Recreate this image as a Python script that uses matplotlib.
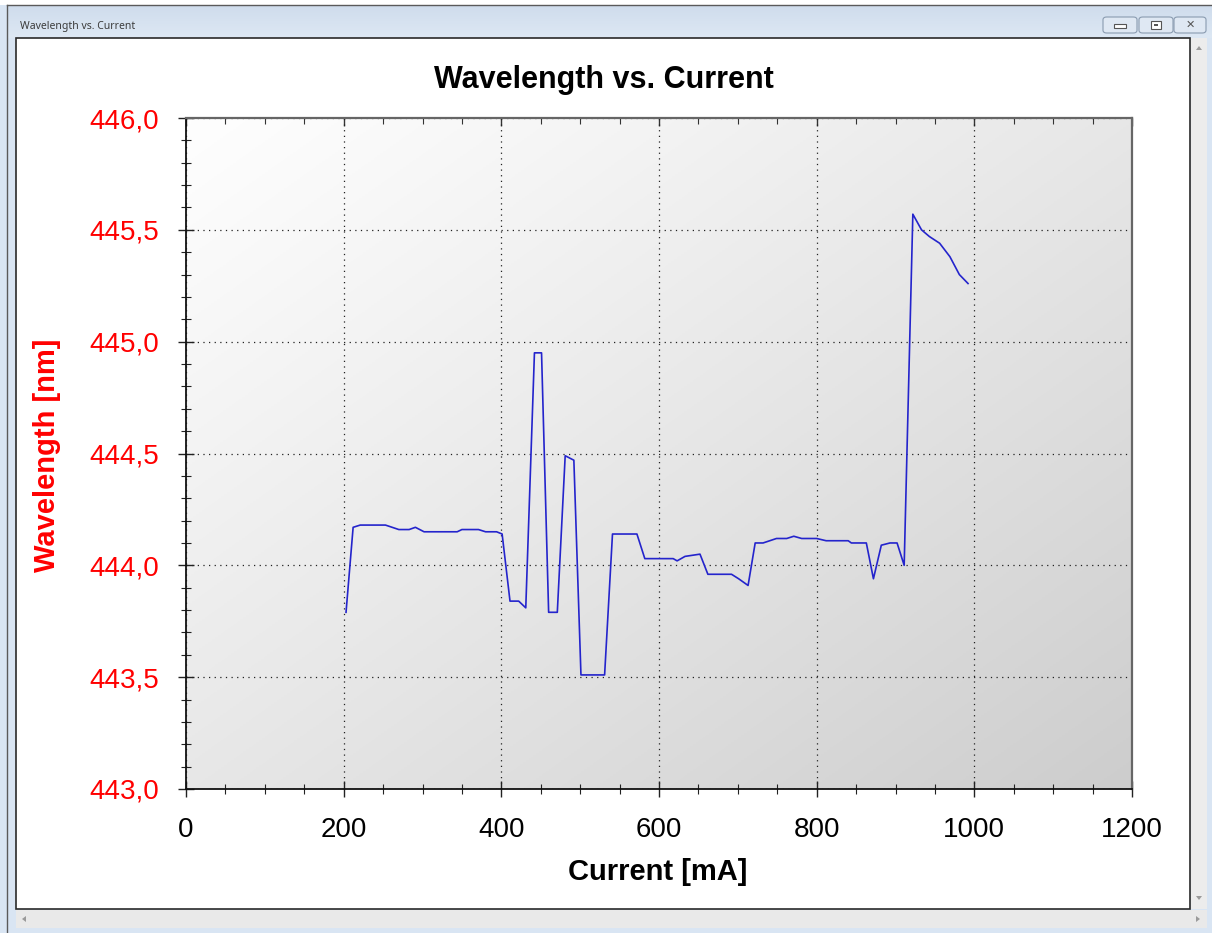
import numpy as np
import matplotlib
matplotlib.use("Agg")
import matplotlib.pyplot as plt
from matplotlib.patches import Rectangle, FancyBboxPatch, Polygon
from matplotlib.ticker import MultipleLocator, FuncFormatter

# ---------------- data ----------------
current = [203, 212, 221, 253, 270, 283, 291, 302, 344, 350,
           371, 380, 394, 401, 411, 422, 431, 442, 451, 460,
           471, 481, 492, 501, 531, 541, 572, 582, 618, 623,
           633, 652, 662, 692, 701, 713, 722, 732, 749, 762,
           771, 781, 800, 812, 840, 844, 863, 872, 882, 893,
           902, 911, 922, 933, 943, 956, 969, 981, 992]
wavelength = [443.79, 444.17, 444.18, 444.18, 444.16, 444.16, 444.17, 444.15, 444.15, 444.16,
              444.16, 444.15, 444.15, 444.14, 443.84, 443.84, 443.81, 444.95, 444.95, 443.79,
              443.79, 444.49, 444.47, 443.51, 443.51, 444.14, 444.14, 444.03, 444.03, 444.02,
              444.04, 444.05, 443.96, 443.96, 443.94, 443.91, 444.10, 444.10, 444.12, 444.12,
              444.13, 444.12, 444.12, 444.11, 444.11, 444.10, 444.10, 443.94, 444.09, 444.10,
              444.10, 444.00, 445.57, 445.50, 445.47, 445.44, 445.38, 445.30, 445.26]

title = "Wavelength vs. Current"
xlabel = "Current [mA]"
ylabel = "Wavelength [nm]"
window_title = "Wavelength vs. Current"

W, H = 1212, 933
plt.rcParams['font.family'] = ['Liberation Sans', 'DejaVu Sans']

fig = plt.figure(figsize=(W / 100, H / 100), dpi=100)
fig.patch.set_facecolor('#d9e5f3')


def fx(x):
    return x / W


def fy(y):
    return 1 - y / H


def rect(x0, y0, x1, y1, **kw):
    r = Rectangle((fx(x0), fy(y1)), fx(x1) - fx(x0), fy(y0) - fy(y1),
                  transform=fig.transFigure, **kw)
    fig.add_artist(r)
    return r


# ---------------- window chrome ----------------
rect(0, 0, W, 5, facecolor='white', edgecolor='none', zorder=0)
tb = np.linspace(0, 1, 50).reshape(-1, 1)
ax_tb = fig.add_axes([fx(7), fy(38), fx(W) - fx(7), fy(5) - fy(38)], zorder=-5)
ax_tb.imshow(tb, cmap=matplotlib.colors.LinearSegmentedColormap.from_list('t', ['#cfdcec', '#dde8f4']),
             aspect='auto', extent=[0, 1, 0, 1])
ax_tb.axis('off')
fig.add_artist(plt.Line2D([fx(7), fx(W)], [fy(5), fy(5)], transform=fig.transFigure, color='#5a5a5a', lw=1))
fig.add_artist(plt.Line2D([fx(7), fx(7)], [fy(5), fy(H)], transform=fig.transFigure, color='#5a5a5a', lw=1))
fig.text(fx(20), fy(26), window_title, fontsize=7.5, color='#3c3c3c', va='center', ha='left',
         family=['Noto Sans', 'DejaVu Sans'])

for (x0, x1) in [(1103, 1137), (1139, 1173), (1174, 1206)]:
    b = FancyBboxPatch((fx(x0), fy(33)), fx(x1) - fx(x0), fy(17) - fy(33),
                       boxstyle='round,pad=0,rounding_size=0.003', transform=fig.transFigure,
                       facecolor='#dfe8f3', edgecolor='#8a9bb0', lw=0.8)
    fig.add_artist(b)
rect(1114, 24, 1126, 28, facecolor='white', edgecolor='#555555', lw=0.8)
rect(1151, 21, 1161, 29, facecolor='white', edgecolor='#555555', lw=0.8)
rect(1154, 24, 1158, 26, facecolor='#555555', edgecolor='none')
fig.text(fx(1190), fy(25), u"\u2715", fontsize=8, color='#555555', ha='center', va='center',
         family=['DejaVu Sans'])

rect(16, 38, 1190, 909, facecolor='white', edgecolor='#2a2a2a', lw=1.2, zorder=0)
rect(1191, 38, 1207, 909, facecolor='#ececec', edgecolor='none', zorder=0)
fig.add_artist(Polygon([[fx(1196), fy(50)], [fx(1202), fy(50)], [fx(1199), fy(46)]],
                       transform=fig.transFigure, facecolor='#9a9a9a', edgecolor='none'))
fig.add_artist(Polygon([[fx(1196), fy(896)], [fx(1202), fy(896)], [fx(1199), fy(900)]],
                       transform=fig.transFigure, facecolor='#9a9a9a', edgecolor='none'))
rect(16, 910, 1207, 928, facecolor='#e9e9e9', edgecolor='none', zorder=0)
fig.add_artist(Polygon([[fx(26), fy(916)], [fx(26), fy(922)], [fx(22), fy(919)]],
                       transform=fig.transFigure, facecolor='#9a9a9a', edgecolor='none'))
fig.add_artist(Polygon([[fx(1196), fy(916)], [fx(1196), fy(922)], [fx(1200), fy(919)]],
                       transform=fig.transFigure, facecolor='#9a9a9a', edgecolor='none'))

# ---------------- chart ----------------
L, R, T, B = 186, 1132, 118, 789
ax = fig.add_axes([fx(L), fy(B), fx(R) - fx(L), fy(T) - fy(B)], zorder=2)

gx, gy = np.meshgrid(np.linspace(0, 1, 300), np.linspace(0, 1, 300))
g = np.clip((gx + gy) / 2.0, 0, 1) ** 1.1
ax.imshow(g, cmap=matplotlib.colors.LinearSegmentedColormap.from_list('g', ['#fefefe', '#cdcdcd']),
          extent=[0, 1, 0, 1], transform=ax.transAxes, aspect='auto', zorder=0, origin='upper')

ax.plot(current, wavelength, color='#2424cc', lw=1.2, zorder=3)

ax.set_xlim(0, 1200)
ax.set_ylim(443.0, 446.0)
ax.xaxis.set_major_locator(MultipleLocator(200))
ax.xaxis.set_minor_locator(MultipleLocator(50))
ax.yaxis.set_major_locator(MultipleLocator(0.5))
ax.yaxis.set_minor_locator(MultipleLocator(0.1))
ax.yaxis.set_major_formatter(FuncFormatter(lambda v, p: f"{v:.1f}".replace('.', ',')))

ax.grid(True, which='major', color='#222222', linestyle=(0, (1, 3.5)), lw=0.9, zorder=1)

ax.tick_params(axis='both', which='major', direction='inout', length=11, width=1.0, color='#222222')
ax.tick_params(axis='both', which='minor', direction='inout', length=7, width=0.8, color='#222222')
ax.tick_params(axis='y', which='major', labelsize=20, labelcolor='#ff0000', pad=14)
ax.tick_params(axis='x', which='major', labelsize=20, labelcolor='black', pad=15)
ax.tick_params(right=False, top=False)

top = ax.secondary_xaxis('top')
top.xaxis.set_major_locator(MultipleLocator(200))
top.xaxis.set_minor_locator(MultipleLocator(50))
top.tick_params(which='major', direction='in', length=6, width=1.0, color='#333333', labeltop=False)
top.tick_params(which='minor', direction='in', length=4, width=0.8, color='#333333')
top.spines['top'].set_visible(False)

for s in ['left', 'bottom']:
    ax.spines[s].set_color('#111111')
    ax.spines[s].set_linewidth(1.3)
for s in ['top', 'right']:
    ax.spines[s].set_color('#666666')
    ax.spines[s].set_linewidth(1.6)

fig.text(fx(604), fy(80), title, fontsize=22, fontweight='bold', ha='center', va='center', color='black')
fig.text(fx(658), fy(872), xlabel, fontsize=21, fontweight='bold', ha='center', va='center', color='black')
fig.text(fx(47), fy(455), ylabel, fontsize=21, fontweight='bold', ha='center', va='center',
         color='#ff0000', rotation=90)

fig.savefig('out.png', dpi=100, facecolor=fig.get_facecolor())
